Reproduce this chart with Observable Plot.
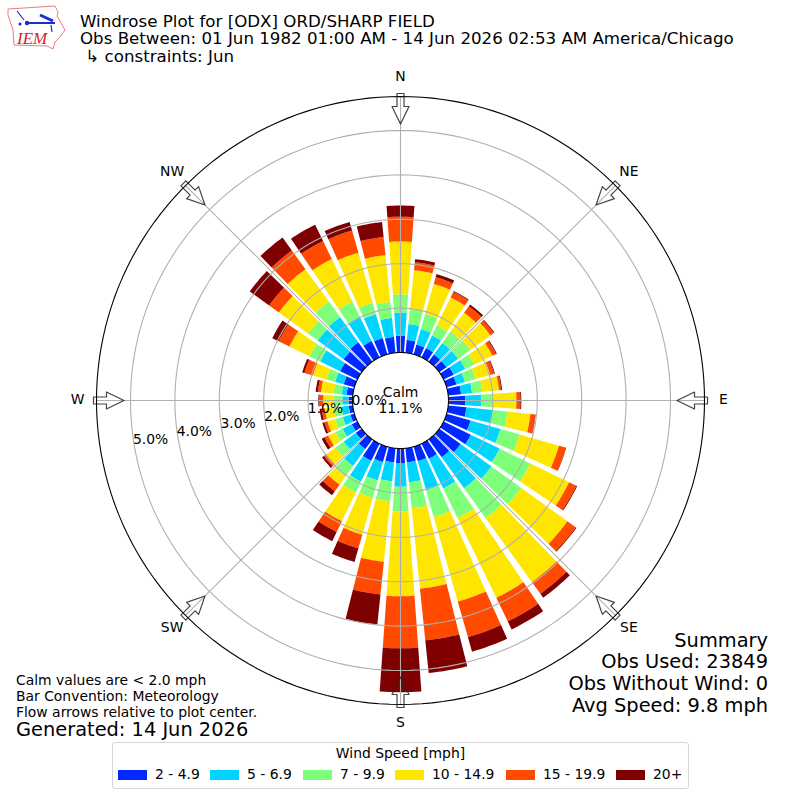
<!DOCTYPE html>
<html><head><meta charset="utf-8">
<script src="https://cdn.jsdelivr.net/npm/d3@7"></script>
<script src="https://cdn.jsdelivr.net/npm/@observablehq/plot@0.6"></script>
<style>
html,body{margin:0;padding:0;background:#fff;font-family:"DejaVu Sans",sans-serif;color:#000}
#page{position:relative;width:800px;height:800px;overflow:hidden}
#page svg.chart{position:absolute;left:0;top:0}
.t{position:absolute;white-space:pre;line-height:1}
#legend{position:absolute;left:112px;top:742px;width:575px;height:45px;border:1px solid #d5d5d5;border-radius:3px;box-sizing:content-box}
.sw{position:absolute;width:29px;height:10px;top:27px}
.lt{position:absolute;top:25px;font-size:13.9px;line-height:1;white-space:pre}
</style></head><body><div id="page"></div>
<script>
const directions = d3.range(0, 360, 10);
const speedClasses = ["2 - 4.9","5 - 6.9","7 - 9.9","10 - 14.9","15 - 19.9","20+"];
const speedColors = ["#0029ff","#00d5ff","#7dff7a","#ffe600","#ff4a00","#7f0000"];
const s2to5 = [.38,.29,.23,.23,.20,.20,.25,.23,.29,.38,.41,.56,.68,.59,.50,.38,.34,.32,.34,.32,.36,.43,.27,.16,.14,.09,.09,.09,.14,.25,.43,.50,.54,.41,.38,.36];
const s5to7 = [.52,.36,.36,.32,.32,.32,.29,.20,.25,.36,.59,.70,.72,.86,.86,.74,.68,.45,.52,.43,.43,.52,.47,.34,.23,.18,.16,.14,.11,.20,.50,.72,.70,.61,.56,.43];
const s7to10 = [.41,.34,.36,.25,.32,.34,.23,.25,.23,.27,.34,.45,.77,.83,.83,.74,.63,.59,.56,.45,.41,.27,.29,.23,.18,.18,.18,.20,.18,.20,.27,.27,.43,.38,.27,.36];
const s10to15 = [1.19,.88,.70,.70,.52,.56,.45,.34,.38,.52,.52,.92,.97,1.28,1.78,2.00,1.98,1.82,1.91,1.37,.86,.72,.23,.25,.18,.18,.20,.23,.29,.32,.50,.81,.90,1.06,1.17,1.06];
const s15to20 = [.56,.18,.16,.14,.18,.09,.09,.09,.05,.09,.11,.16,.18,.23,.32,.59,.83,1.17,1.17,.74,.32,.27,.18,.07,.09,.07,.07,.09,.07,.20,.27,.27,.52,.45,.52,.41];
const s20plus = [.25,.07,.07,.02,.05,.02,.02,.02,.02,.02,.01,.01,.02,.02,.11,.20,.34,.74,.99,.68,.32,.23,.11,.05,.07,.05,.05,.02,.05,.05,.16,.54,.36,.41,.20,.34];
const speedSeries = [s2to5,s5to7,s7to10,s10to15,s15to20,s20plus];
const rTicks = [0,1,2,3,4,5];
const compass = [["N",0],["NE",45],["E",90],["SE",135],["S",180],["SW",225],["W",270],["NW",315]];
const calm = "11.1%";
const titleLines = ["Windrose Plot for [ODX] ORD/SHARP FIELD","Obs Between: 01 Jun 1982 01:00 AM - 14 Jun 2026 02:53 AM America/Chicago"," \u21B3 constraints: Jun"];
const noteLines = ["Calm values are < 2.0 mph","Bar Convention: Meteorology","Flow arrows relative to plot center."];
const generated = "Generated: 14 Jun 2026";
const summary = ["Summary","Obs Used: 23849","Obs Without Wind: 0","Avg Speed: 9.8 mph"];

// geometry: one percent = 44.4 px, the radial axis starts at a hole
const PX = 44.4, HALF = 400/PX, HOLE = 48/PX, RMAX = 5.766, BAR = 8.2;
const pol = (deg, v) => { const a = deg*Math.PI/180, r = v+HOLE; return {x:r*Math.sin(a), y:r*Math.cos(a)}; };

const sectors = [];
directions.forEach((d,i) => {
  let base = 0;
  speedSeries.forEach((s,k) => {
    const top = base + s[i], pts = [];
    for (let t=0;t<=8;t++) pts.push(pol(d-BAR/2+BAR*t/8, base));
    for (let t=8;t>=0;t--) pts.push(pol(d-BAR/2+BAR*t/8, top));
    pts.forEach(p => sectors.push({...p, id:`${d}-${k}`, cls:speedClasses[k]}));
    base = top;
  });
});
const ring = v => d3.range(0,361,2).map(t => ({...pol(t,v), v}));
const gridRings = rTicks.slice(1).flatMap(ring);
const spokes = compass.flatMap(([n,d]) => [{...pol(d,0),n},{...pol(d,RMAX),n}]);
const arrowPts = compass.flatMap(([n,d]) => {
  // block arrow pointing to the centre, offsets in percent units
  const a = d*Math.PI/180, ux=Math.sin(a), uy=Math.cos(a), vx=uy, vy=-ux;
  const R = RMAX+HOLE, tailOut=R+3/PX, neck=R-10/PX, tip=R-27.5/PX, tw=3.5/PX, hw=8.5/PX;
  const P=(r,w)=>({x:ux*r+vx*w,y:uy*r+vy*w,n});
  return [P(tailOut,-tw),P(neck,-tw),P(neck,-hw),P(tip,0),P(neck,hw),P(neck,tw),P(tailOut,tw),P(tailOut,-tw)];
});
const dirLabels = compass.map(([n,d]) => ({x:Math.sin(d*Math.PI/180)*323/PX, y:Math.cos(d*Math.PI/180)*323/PX, n}));
const rLabels = rTicks.map(v => ({...pol(260,v), text:v.toFixed(1)+"%"}));

const chart = Plot.plot({
  width:800,height:800,margin:0,
  x:{domain:[-HALF,HALF],axis:null},
  y:{domain:[-HALF,HALF],axis:null},
  color:{domain:speedClasses,range:speedColors},
  style:{fontFamily:"DejaVu Sans",background:"transparent",overflow:"visible"},
  marks:[
    Plot.line(sectors,{x:"x",y:"y",z:"id",fill:"cls",stroke:"none",curve:"linear-closed"}),
    Plot.line(gridRings,{x:"x",y:"y",z:"v",stroke:"#b0b0b0",strokeWidth:1.1}),
    Plot.line(spokes,{x:"x",y:"y",z:"n",stroke:"#b0b0b0",strokeWidth:1.1}),
    Plot.line(ring(0),{x:"x",y:"y",stroke:"#000",strokeWidth:1.1}),
    Plot.line(ring(RMAX),{x:"x",y:"y",stroke:"#000",strokeWidth:1.1}),
    Plot.line(arrowPts,{x:"x",y:"y",z:"n",stroke:"#222",strokeWidth:1.2,strokeOpacity:.85,fill:"none",curve:"linear"}),
    Plot.text(dirLabels,{x:"x",y:"y",text:"n",dy:-1,fontSize:13.9,fill:"#000"}),
    Plot.text(rLabels,{x:"x",y:"y",text:"text",dx:16,dy:-8,fontSize:13.9,fill:"#000"}),
    Plot.text(["Calm"],{x:[0],y:[0],text:d=>d,dy:-8,fontSize:13.9,fill:"#000"}),
    Plot.text([calm],{x:[0],y:[0],text:d=>d,dy:8,fontSize:13.9,fill:"#000"})
  ]
});
chart.classList.add("chart");
const page = document.getElementById("page");
page.appendChild(chart);

function addText(s,left,top,size,right){
  const e=document.createElement("div");e.className="t";e.textContent=s;e.style.fontSize=size+"px";e.style.top=top+"px";
  if(right!=null)e.style.right=right+"px";else e.style.left=left+"px";
  page.appendChild(e);
}
titleLines.forEach((s,i)=>addText(s,80,[13.5,30.5,48.5][i],16.67));
noteLines.forEach((s,i)=>addText(s,16,[674,690,706][i],13.9));
addText(generated,16,720,19.4);
summary.forEach((s,i)=>addText(s,0,[631,652,674,696][i],19.4,32));

// legend
const lg=document.createElement("div");lg.id="legend";
const lgTitle=document.createElement("div");lgTitle.className="lt";lgTitle.textContent="Wind Speed [mph]";
lgTitle.style.top="4px";lgTitle.style.left="0";lgTitle.style.width="100%";lgTitle.style.textAlign="center";lg.appendChild(lgTitle);
const swX=[5,97,190,282,393,503], txX=[42,134,227,319,430,540];
speedClasses.forEach((c,i)=>{
  const s=document.createElement("div");s.className="sw";s.style.left=swX[i]+"px";s.style.background=speedColors[i];lg.appendChild(s);
  const t=document.createElement("div");t.className="lt";t.style.left=txX[i]+"px";t.textContent=c;lg.appendChild(t);
});
page.appendChild(lg);

// IEM logo
const NS="http://www.w3.org/2000/svg";
const logo=document.createElementNS(NS,"svg");
logo.setAttribute("width","70");logo.setAttribute("height","55");logo.style.cssText="position:absolute;left:0;top:0";
logo.innerHTML=`<path d="M8 9 L55 6 L58 12 L57 16 L65 30 L59 38 L55 42 L53 49 L47 46 L14 45 L13 30 L8 15 Z" fill="#fff" stroke="#e88080" stroke-width="1"/>
<path d="M27 23 H55" fill="none" stroke="#1a2bd8" stroke-width="2"/>
<path d="M40 15 L53 21" fill="none" stroke="#1a2bd8" stroke-width="3"/>
<path d="M17 11 L24 20 M51 25 L52 32" fill="none" stroke="#1a2bd8" stroke-width="1.2"/>
<circle cx="27" cy="23" r="2.2" fill="#1a2bd8"/><circle cx="20" cy="24" r="1.5" fill="#1a2bd8"/>
<text x="17" y="44" font-family="Liberation Serif" font-style="italic" font-size="17" fill="#d22">IEM</text>`;
page.appendChild(logo);
</script></body></html>
